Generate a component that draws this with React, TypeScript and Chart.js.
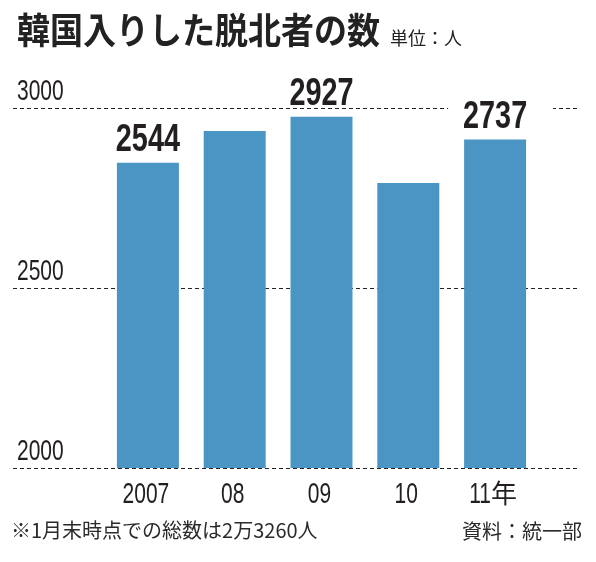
import React, { useEffect, useRef } from "react";
import { Chart, registerables } from "chart.js";

Chart.register(...registerables);

// ---- data ----
const years = ["2007", "08", "09", "10", "11年"];
const entrants = [2544, 2809, 2927, 2376, 2737];
const labelledIndices = [0, 2, 4];
const yTickValues = [0, 1500, 3000];
const yTickLabels = ["2000", "2500", "3000"];
const titleText = "韓国入りした脱北者の数";
const unitText = "単位：人";
const noteText = "※1月末時点での総数は2万3260人";
const sourceText = "資料：統一部";

const BAR = "#4a95c3";
const INK = "#231f20";
const DIGIT_FONT = '"Liberation Sans", Arial, sans-serif';
const CJK_FONT = '"Noto Sans CJK JP", sans-serif';

function isAscii(ch: string) {
  return ch.charCodeAt(0) < 128;
}

// draws text where ASCII runs are horizontally condensed
function drawMixed(
  ctx: CanvasRenderingContext2D,
  text: string,
  x: number,
  y: number,
  opts: { digitFont: string; cjkFont: string; sx: number; align: "left" | "center" | "right" }
) {
  const runs: { t: string; ascii: boolean }[] = [];
  for (const ch of text) {
    const a = isAscii(ch);
    if (runs.length && runs[runs.length - 1].ascii === a) runs[runs.length - 1].t += ch;
    else runs.push({ t: ch, ascii: a });
  }
  const widths = runs.map((r) => {
    ctx.font = r.ascii ? opts.digitFont : opts.cjkFont;
    return ctx.measureText(r.t).width * (r.ascii ? opts.sx : 1);
  });
  const total = widths.reduce((a, b) => a + b, 0);
  let cx = opts.align === "left" ? x : opts.align === "center" ? x - total / 2 : x - total;
  ctx.textAlign = "left";
  runs.forEach((r, i) => {
    ctx.save();
    ctx.font = r.ascii ? opts.digitFont : opts.cjkFont;
    ctx.translate(cx, y);
    if (r.ascii) ctx.scale(opts.sx, 1);
    ctx.fillText(r.t, 0, 0);
    ctx.restore();
    cx += widths[i];
  });
  return total;
}

const decorPlugin = {
  id: "decor",
  beforeDatasetsDraw(chart: any) {
    const ctx: CanvasRenderingContext2D = chart.ctx;
    const yScale = chart.scales.y;
    const meta = chart.getDatasetMeta(0);
    ctx.save();
    ctx.strokeStyle = "#222";
    ctx.lineWidth = 1;
    ctx.setLineDash([4, 3]);
    yTickValues.forEach((v) => {
      const py = Math.round(yScale.getPixelForValue(v)) + 0.5;
      ctx.beginPath();
      ctx.moveTo(13, py);
      ctx.lineTo(578, py);
      ctx.stroke();
    });
    // white backing behind value labels (hides the dashed lines only)
    ctx.fillStyle = "#fff";
    labelledIndices.forEach((i) => {
      const bar = meta.data[i];
      const baseline = bar.y - 12;
      ctx.fillRect(bar.x - 47, baseline - 30, 105, 32);
    });
    ctx.restore();
  },
  afterDatasetsDraw(chart: any) {
    const ctx: CanvasRenderingContext2D = chart.ctx;
    const yScale = chart.scales.y;
    const meta = chart.getDatasetMeta(0);
    ctx.save();
    ctx.fillStyle = INK;
    ctx.textBaseline = "alphabetic";

    // y tick labels (above each dashed line)
    yTickValues.forEach((v, i) => {
      const py = yScale.getPixelForValue(v);
      drawMixed(ctx, yTickLabels[i], 17, py - 8, {
        digitFont: `30px ${DIGIT_FONT}`,
        cjkFont: `26px ${CJK_FONT}`,
        sx: 0.7,
        align: "left",
      });
    });

    // x category labels
    const base = yScale.getPixelForValue(0);
    meta.data.forEach((bar: any, i: number) => {
      drawMixed(ctx, years[i], bar.x - 2, base + 35, {
        digitFont: `30px ${DIGIT_FONT}`,
        cjkFont: `26px ${CJK_FONT}`,
        sx: 0.7,
        align: "center",
      });
    });

    // value labels
    labelledIndices.forEach((i) => {
      const bar = meta.data[i];
      const baseline = bar.y - 12;
      drawMixed(ctx, String(entrants[i]), bar.x, baseline, {
        digitFont: `bold 39px ${DIGIT_FONT}`,
        cjkFont: `bold 30px ${CJK_FONT}`,
        sx: 0.74,
        align: "center",
      });
    });

    // title
    ctx.textBaseline = "middle";
    ctx.textAlign = "left";
    ctx.fillStyle = "#222";
    ctx.save();
    ctx.font = `bold 33px ${CJK_FONT}`;
    ctx.translate(17, 29.7);
    ctx.scale(1, 1.1);
    ctx.fillText(titleText, 0, 0);
    ctx.restore();

    ctx.font = `18px ${CJK_FONT}`;
    ctx.fillText(unitText, 390, 38.5);

    // footnotes
    ctx.fillStyle = "#2a2a2a";
    ctx.font = `20px ${CJK_FONT}`;
    ctx.textAlign = "left";
    ctx.fillText(noteText, 11, 530);
    ctx.textAlign = "right";
    ctx.fillText(sourceText, 582, 531);

    ctx.restore();
  },
};

export default function App() {
  const ref = useRef<HTMLCanvasElement | null>(null);
  useEffect(() => {
    if (!ref.current) return;
    const chart = new Chart(ref.current, {
      type: "bar",
      data: {
        labels: years,
        datasets: [
          {
            data: entrants,
            backgroundColor: BAR,
            borderWidth: 0,
            barPercentage: 0.714,
            categoryPercentage: 1,
          },
        ],
      },
      options: {
        animation: false,
        responsive: false,
        devicePixelRatio: 1,
        layout: { padding: { left: 104.5, right: 57.5, top: 108, bottom: 94 } },
        plugins: { legend: { display: false }, tooltip: { enabled: false }, title: { display: false } },
        scales: {
          x: { display: false },
          y: { display: false, min: 0, max: 3000 },
        },
      },
      plugins: [decorPlugin],
    });
    return () => chart.destroy();
  }, []);
  return (
    <div style={{ position: "fixed", left: 0, top: 0, width: 596, height: 562, background: "#fff" }}>
      <canvas ref={ref} width={596} height={562} style={{ width: 596, height: 562, display: "block" }} />
    </div>
  );
}
